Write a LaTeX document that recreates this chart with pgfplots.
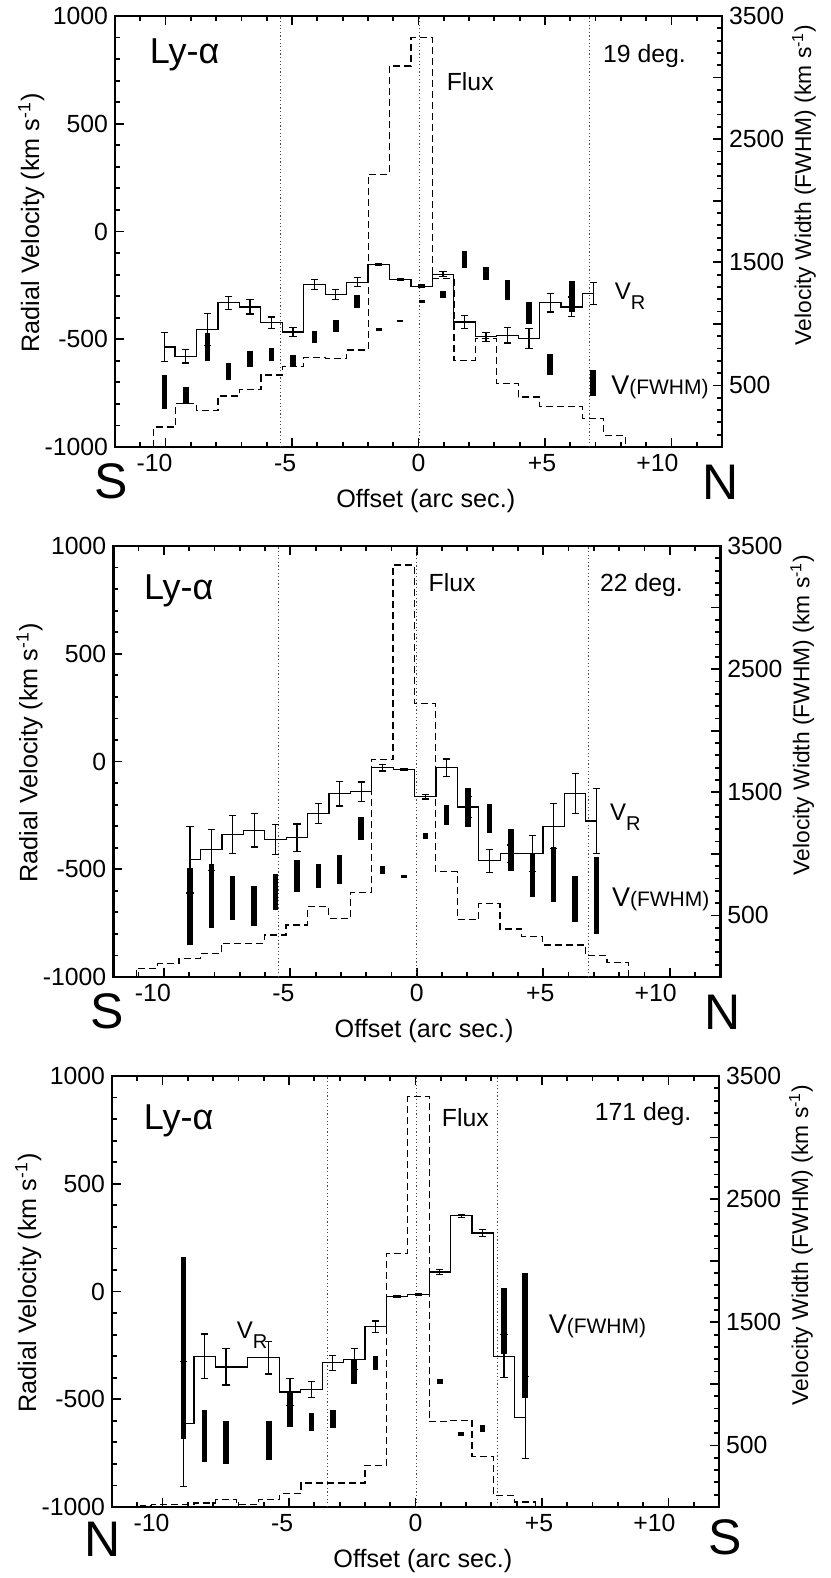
\documentclass[border=0pt]{standalone}
\usepackage{fontspec}
\setmainfont{Liberation Sans}
\usepackage{pgfplots}
\usepackage{pgfplotstable}
\pgfplotsset{compat=1.18}

\newcommand\fs{\fontsize{12.4}{14}\selectfont}
\newcommand\fbig{\fontsize{18}{20}\selectfont}
\newcommand\fhuge{\fontsize{25}{27}\selectfont}
\newcommand\VR{{\fontsize{12}{14}\selectfont V\raisebox{-5pt}{\fontsize{10}{12}\selectfont R}}}
\newcommand\VF{{\fontsize{13.5}{15}\selectfont V}{\fontsize{10.5}{12}\selectfont (FWHM)}}

% ---- panel 1: 19 deg ----
\pgfplotstableread{
x v e
-10.05 -536 66
-9.20 -579 31
-8.35 -455 75
-7.51 -331 31
-6.66 -350 33
-5.81 -423 26
-4.96 -466 20
-4.11 -246 23
-3.27 -293 23
-2.42 -235 22
-1.57 -153 6
-0.72 -223 5
0.13 -254 6
0.97 -198 11
1.82 -420 31
2.67 -489 20
3.52 -481 36
4.37 -497 46
5.21 -331 43
6.06 -350 46
6.91 -288 51
}\vrA
\pgfplotstableread{
x lo hi
-10.05 312 588
-9.20 352 488
-8.35 696 927
-7.51 547 683
-6.66 650 780
-5.81 696 807
-4.96 656 745
-4.11 845 940
-3.27 935 1035
-2.42 1132 1238
-1.57 940 967
-0.72 1016 1035
0.13 1170 1197
0.97 1211 1265
1.82 1455 1590
2.67 1355 1463
3.52 1197 1360
4.37 1002 1179
5.21 583 753
6.06 1097 1347
6.91 412 623
}\fwA
\pgfplotstableread{
x f
-10.47 -1000
-10.47 -907
-9.62 -797
-8.78 -831
-7.93 -763
-7.08 -735
-6.23 -666
-5.38 -627
-4.54 -583
-3.69 -590
-2.84 -550
-1.99 266
-1.15 768
-0.30 899
0.55 -218
1.40 -598
2.24 -495
3.09 -706
3.94 -768
4.79 -811
5.63 -811
6.48 -868
7.33 -946
8.18 -946
8.18 -1000
}\fxA

% ---- panel 2: 22 deg ----
\pgfplotstableread{
x v e
-8.97 -455 155
-8.12 -409 95
-7.28 -339 88
-6.43 -319 78
-5.59 -362 70
-4.74 -353 63
-3.89 -241 45
-3.05 -149 57
-2.20 -141 46
-1.36 -29 15
-0.51 -37 5
0.34 -164 10
1.18 -28 40
2.03 -211 50
2.87 -461 54
3.72 -427 40
4.57 -427 85
5.41 -300 104
6.26 -149 94
7.10 -276 152
}\vrB
\pgfplotstableread{
x lo hi
-8.97 258 883
-8.12 401 921
-7.28 461 821
-6.43 412 740
-5.59 547 840
-4.74 691 948
-3.89 726 916
-3.05 753 989
-2.20 1111 1300
-1.36 834 900
-0.51 805 832
0.34 1124 1170
1.18 1233 1395
2.03 1219 1531
2.87 1170 1403
3.72 862 1206
4.57 650 1008
5.41 610 1057
6.26 447 821
7.10 352 975
}\fwB
\pgfplotstableread{
x f
-11.09 -1000
-11.09 -959
-10.24 -936
-9.40 -913
-8.55 -890
-7.71 -843
-6.86 -843
-6.01 -805
-5.17 -759
-4.32 -674
-3.48 -727
-2.63 -607
-1.78 10
-0.94 912
-0.09 269
0.75 -512
1.60 -734
2.45 -660
3.29 -777
4.14 -811
4.98 -851
5.83 -851
6.68 -901
7.52 -932
8.37 -932
8.37 -1000
}\fxB

% ---- panel 3: 171 deg ----
\pgfplotstableread{
x v e
-9.18 -613 290
-8.34 -300 103
-7.49 -350 84
-5.80 -308 75
-4.96 -466 62
-4.11 -455 36
-3.27 -331 35
-2.42 -314 48
-1.58 -164 27
-0.73 -22 4
0.12 -14 3
0.96 91 12
1.81 351 7
2.65 272 15
3.50 -300 100
4.34 -585 190
}\vrC
\pgfplotstableread{
x lo hi
-9.18 555 2032
-8.34 366 791
-7.49 352 696
-5.80 379 696
-4.96 650 935
-4.11 618 764
-3.27 645 791
-2.42 1002 1206
-1.58 1111 1225
0.96 1002 1043
1.81 574 610
2.65 610 669
3.50 1241 1780
4.34 889 1897
}\fwC
\pgfplotstableread{
x f
-10.86 -1000
-10.86 -992
-10.45 -989
-9.60 -989
-8.76 -981
-7.91 -966
-7.07 -989
-6.22 -966
-5.38 -938
-4.53 -889
-3.69 -889
-2.84 -889
-2.00 -807
-1.15 176
-0.31 904
0.54 -605
1.38 -598
2.23 -765
3.07 -946
3.92 -977
4.76 -977
4.76 -1000
}\fxC

\pgfplotsset{
  base/.style={scale only axis, width=303.5pt, height=215.5pt,
    xmin=-12, xmax=12, anchor=south west, clip=false,
    tick align=inside, major tick length=4.5pt, minor tick length=2.5pt,
    axis line style={line width=1.3pt},
    every tick/.append style={line width=0.9pt, black},
    tick label style={font=\fs}},
  lefty/.style={base, ymin=-1000, ymax=1000,
    ytick={-1000,-500,0,500,1000}, yticklabels={-1000,-500,0,500,1000},
    minor ytick={-900,-800,...,900},
    xtick={-10,-5,0,5,10},
    xticklabels={-10\kern11pt,-5\kern7pt,0,+5\kern3pt,+10\kern14pt},
    minor xtick={-11,-10,...,11},
    ytick pos=left, xtick pos=both,
    xlabel={Offset (arc sec.)},
    ylabel={Radial Velocity (km s\textsuperscript{-1})},
    xlabel style={at={(axis description cs:0.512,-0.125)}, anchor=center, font=\fontsize{12.6}{14}\selectfont},
    ylabel style={at={(axis description cs:-0.138,0.52)}, anchor=center, font=\fontsize{12.6}{14}\selectfont}},
  righty/.style={base, ymin=0, ymax=3500,
    axis y line*=right, axis x line=none,
    ytick={500,1500,2500,3500}, yticklabels={500,1500,2500,3500},
    extra y ticks={1000,2000,3000}, extra y tick labels={},
    minor ytick={100,200,...,3400},
    ylabel={Velocity Width (FWHM) (km s\textsuperscript{-1})},
    ylabel style={at={(axis description cs:1.135,0.608)}, anchor=center, font=\fontsize{11.4}{13}\selectfont}},
  vr/.style={black, line width=0.6pt, const plot mark mid, mark=none,
    error bars/.cd, y dir=both, y explicit, error mark=none,
    error bar style={line width=0.6pt, black}},
  cap/.style={black, only marks, mark=-, mark size=1.8pt,
    mark options={line width=0.6pt, solid}},
  fw/.style={draw=none, mark=none,
    error bars/.cd, y dir=plus, y explicit, error mark=none,
    error bar style={draw=black, line width=2.8pt, solid}},
  fx/.style={black, line width=0.6pt, const plot, mark=none, dash pattern=on 3.5pt off 2pt},
  dl/.style={black!70, line width=0.5pt, mark=none, dash pattern=on 0.6pt off 1.2pt},
}

\begin{document}
\begin{tikzpicture}
\useasboundingbox (0,0) rectangle (415pt,-789pt);

% ===== panel 1 =====
\begin{axis}[lefty, at={(57.5pt,-223.5pt)}]
\addplot[dl] coordinates {(-5.47,-1000) (-5.47,1000)};
\addplot[dl] coordinates {(0.03,-1000) (0.03,1000)};
\addplot[dl] coordinates {(6.75,-1000) (6.75,1000)};
\addplot[fx] table[x=x, y=f] \fxA;
\addplot[vr] table[x=x, y=v, y error=e] \vrA;
\addplot[cap] table[x=x, y expr=\thisrow{v}+\thisrow{e}] \vrA;
\addplot[cap] table[x=x, y expr=\thisrow{v}-\thisrow{e}] \vrA;
\node[anchor=base west, font=\fbig] at (axis description cs:0.046,0.890) {Ly-α};
\node[anchor=base east, font=\fs] at (axis description cs:0.952,0.893) {19 deg.};
\node[anchor=base west, font=\fs] at (axis description cs:0.535,0.828) {Flux};
\node[anchor=base west] at (axis description cs:0.812,0.343) {\VR};
\node[anchor=base west] at (axis description cs:0.806,0.121) {\VF};
\node[font=\fhuge] at (axis description cs:-0.0066,-0.079) {S};
\node[font=\fhuge] at (axis description cs:0.9975,-0.082) {N};
\end{axis}
\begin{axis}[righty, at={(57.5pt,-223.5pt)}]
\addplot[fw] table[x=x, y=lo, y error expr=\thisrow{hi}-\thisrow{lo}] \fwA;
\end{axis}

% ===== panel 2 =====
\begin{axis}[lefty, at={(56.65pt,-488.5pt)}]
\addplot[dl] coordinates {(-5.47,-1000) (-5.47,1000)};
\addplot[dl] coordinates {(0,-1000) (0,1000)};
\addplot[dl] coordinates {(6.77,-1000) (6.77,1000)};
\addplot[fx] table[x=x, y=f] \fxB;
\addplot[vr] table[x=x, y=v, y error=e] \vrB;
\addplot[cap] table[x=x, y expr=\thisrow{v}+\thisrow{e}] \vrB;
\addplot[cap] table[x=x, y expr=\thisrow{v}-\thisrow{e}] \vrB;
\node[anchor=base west, font=\fbig] at (axis description cs:0.039,0.875) {Ly-α};
\node[anchor=base east, font=\fs] at (axis description cs:0.950,0.894) {22 deg.};
\node[anchor=base west, font=\fs] at (axis description cs:0.508,0.894) {Flux};
\node[anchor=base west] at (axis description cs:0.807,0.364) {\VR};
\node[anchor=base west] at (axis description cs:0.810,0.163) {\VF};
\node[font=\fhuge] at (axis description cs:-0.0096,-0.079) {S};
\node[font=\fhuge] at (axis description cs:1.0036,-0.081) {N};
\end{axis}
\begin{axis}[righty, at={(56.65pt,-488.5pt)}]
\addplot[fw] table[x=x, y=lo, y error expr=\thisrow{hi}-\thisrow{lo}] \fwB;
\end{axis}

% ===== panel 3 =====
\begin{axis}[lefty, at={(56pt,-753.5pt)}]
\addplot[dl] coordinates {(-3.47,-1000) (-3.47,1000)};
\addplot[dl] coordinates {(0.05,-1000) (0.05,1000)};
\addplot[dl] coordinates {(3.23,-1000) (3.23,1000)};
\addplot[fx] table[x=x, y=f] \fxC;
\addplot[vr] table[x=x, y=v, y error=e] \vrC;
\addplot[cap] table[x=x, y expr=\thisrow{v}+\thisrow{e}] \vrC;
\addplot[cap] table[x=x, y expr=\thisrow{v}-\thisrow{e}] \vrC;
\node[anchor=base west, font=\fbig] at (axis description cs:0.041,0.875) {Ly-α};
\node[anchor=base east, font=\fs] at (axis description cs:0.966,0.896) {171 deg.};
\node[anchor=base west, font=\fs] at (axis description cs:0.532,0.884) {Flux};
\node[anchor=base west] at (axis description cs:0.194,0.391) {\VR};
\node[anchor=base west] at (axis description cs:0.708,0.403) {\VF};
\node[font=\fhuge] at (axis description cs:-0.0157,-0.074) {N};
\node[font=\fhuge] at (axis description cs:1.0099,-0.071) {S};
\end{axis}
\begin{axis}[righty, at={(56pt,-753.5pt)}]
\addplot[fw] table[x=x, y=lo, y error expr=\thisrow{hi}-\thisrow{lo}] \fwC;
\end{axis}
\end{tikzpicture}
\end{document}
